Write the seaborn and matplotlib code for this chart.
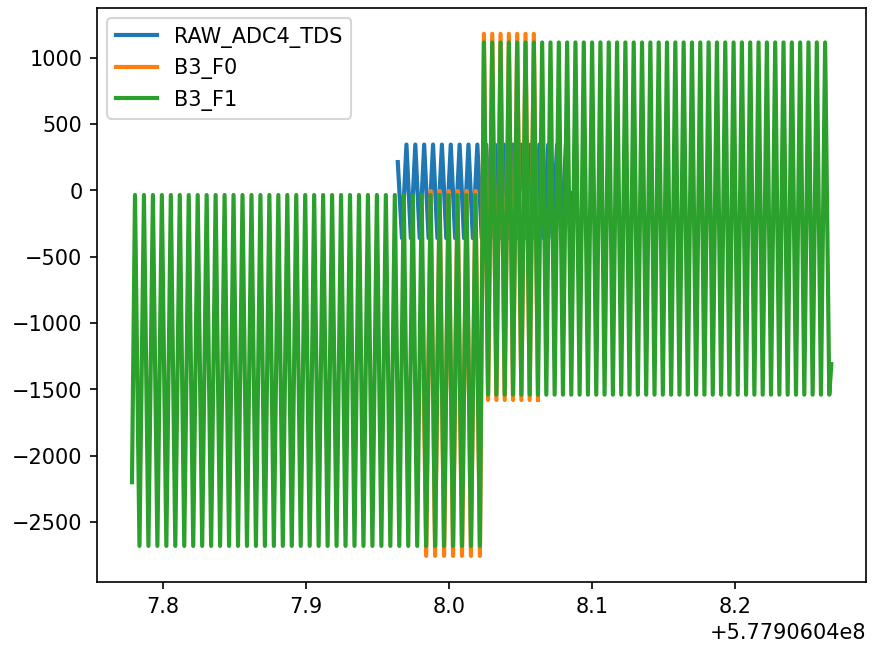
import numpy as np
import pandas as pd
import matplotlib
matplotlib.use("Agg")
import matplotlib.pyplot as plt
import seaborn as sns

# Time base: absolute timestamps are T0 + t
T0 = 577906040.0

series_names = ["RAW_ADC4_TDS", "B3_F0", "B3_F1"]
series_colors = ["#1f77b4", "#ff7f0e", "#2ca02c"]

# Each oscillation block: first peak time, first trough time, period,
# number of peaks, number of troughs, peak level, trough level
raw_start = [7.964174, 213.0]
raw_block = [7.970226, 7.967096, 0.0061913, 19, 20, 345.0, -360.0]
raw_end = [8.086609, -20.0]

f0_start = [7.982261, -1400.0]
f0_block_a = [7.987130, 7.983999, 0.0062609, 6, 7, -5.0, -2755.0]
f0_block_b = [8.024348, 8.027255, 0.0058157, 7, 7, 1180.0, -1580.0]

f1_start = [7.778435, -2200.0]
f1_block_a = [7.780522, 7.783652, 0.0062609, 39, 39, -35.0, -2680.0]
f1_block_b = [8.024348, 8.027255, 0.0058157, 42, 42, 1115.0, -1540.0]
f1_end = [8.267130, -1310.0]


def block_points(block):
    t_pk, t_tr, period, n_pk, n_tr, pk, tr = block
    t = np.concatenate([t_pk + period * np.arange(n_pk),
                        t_tr + period * np.arange(n_tr)])
    v = np.concatenate([np.full(n_pk, pk), np.full(n_tr, tr)])
    order = np.argsort(t, kind="stable")
    return t[order], v[order]


def assemble(start, blocks, end=None):
    ts, vs = [np.array([start[0]])], [np.array([start[1]])]
    for b in blocks:
        t, v = block_points(b)
        ts.append(t)
        vs.append(v)
    if end is not None:
        ts.append(np.array([end[0]]))
        vs.append(np.array([end[1]]))
    return np.concatenate(ts) + T0, np.concatenate(vs)


traces = {
    "RAW_ADC4_TDS": assemble(raw_start, [raw_block], raw_end),
    "B3_F0": assemble(f0_start, [f0_block_a, f0_block_b]),
    "B3_F1": assemble(f1_start, [f1_block_a, f1_block_b], f1_end),
}

fig = plt.figure(figsize=(874.3 / 150, 648.3 / 150), dpi=150)
ax = fig.add_axes([97 / 874, 1 - 582 / 648, (866 - 97) / 874, (582 - 8) / 648])

for name, color in zip(series_names, series_colors):
    t, v = traces[name]
    df = pd.DataFrame({"time": t, "value": v})
    sns.lineplot(data=df, x="time", y="value", ax=ax, color=color,
                 label=name, estimator=None, sort=False, linewidth=2.0)

ax.set_xlabel("")
ax.set_ylabel("")
ax.legend(loc="upper left")

fig.savefig("out.png", dpi=150)
